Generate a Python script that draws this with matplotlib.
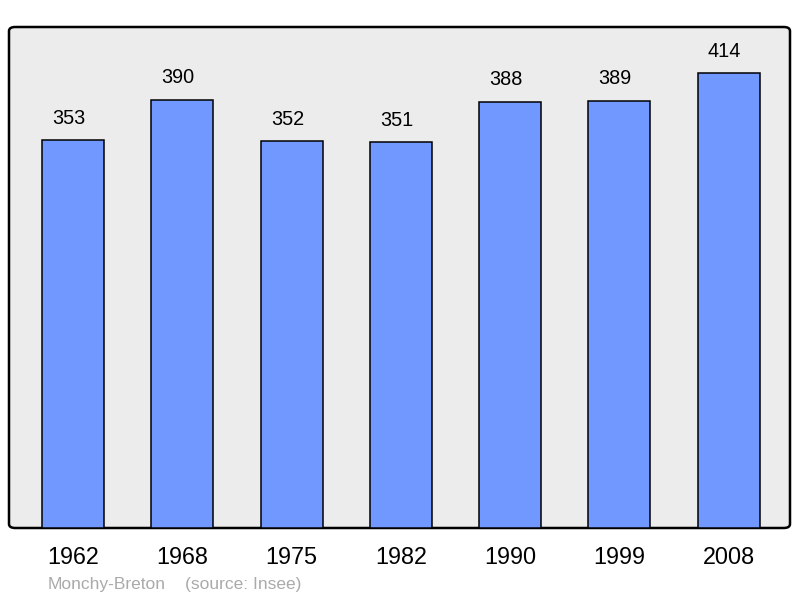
import matplotlib.pyplot as plt
from matplotlib.patches import FancyBboxPatch

plt.rcParams['font.family'] = ['Liberation Sans', 'DejaVu Sans']

# Données
annees = ['1962', '1968', '1975', '1982', '1990', '1999', '2008']
population = [353, 390, 352, 351, 388, 389, 414]
commune = 'Monchy-Breton'
source = '(source: Insee)'

fig = plt.figure(figsize=(8, 5.98), dpi=100)
ax = fig.add_axes([9/800, 70/598, 781/800, 501/598])
ax.set_facecolor('none')

# cadre arrondi gris
cadre = FancyBboxPatch((0, 0), 1, 1, boxstyle='round,pad=0,rounding_size=0.008',
                       transform=ax.transAxes, facecolor='#ececec', edgecolor='black',
                       linewidth=1.8, clip_on=False, zorder=0)
ax.add_patch(cadre)

x = range(len(annees))
barras = ax.bar(x, population, width=0.567, color='#7098ff', edgecolor='black',
                linewidth=1.1, zorder=2)
for xi, v in zip(x, population):
    ax.annotate(str(v), (xi, v), xytext=(-3, 9), textcoords='offset points',
                ha='center', va='bottom', fontsize=14.3)

ax.set_xlim(-0.585, 6.56)
ax.set_ylim(0, 456)
for s in ax.spines.values():
    s.set_visible(False)
ax.set_yticks([])
ax.set_xticks(list(x))
ax.set_xticklabels(annees, fontsize=16.8)
ax.tick_params(axis='x', length=0, pad=13)

fig.text(48/800, 1 - 584/598, commune, color='#aaaaaa', fontsize=12.5, va='center')
fig.text(185/800, 1 - 584/598, source, color='#aaaaaa', fontsize=12.5, va='center')

plt.savefig('out.png')
